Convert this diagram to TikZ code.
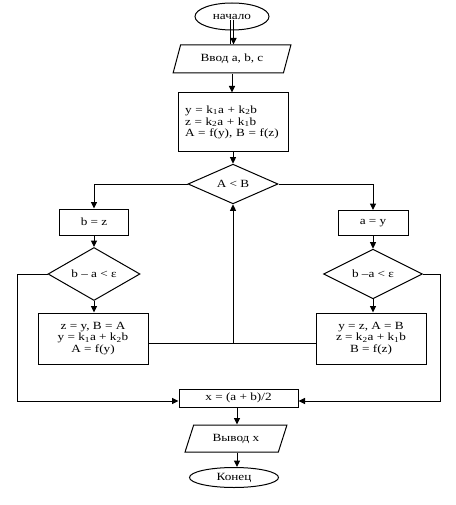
\documentclass[tikz,border=0pt]{standalone}
\usepackage{fontspec}
\setmainfont{Liberation Serif}[FakeStretch=1.2]
\usetikzlibrary{shapes.geometric,arrows.meta}
\begin{document}
\begin{tikzpicture}[x=1pt,y=-1pt,
  every node/.style={font=\fontsize{11}{11.8}\selectfont, inner sep=0pt, line width=1pt},
  box/.style={draw, rectangle},
  dec/.style={draw, diamond},
  term/.style={draw, ellipse},
  io/.style={draw, trapezium, trapezium stretches=true},
  conn/.style={line width=1pt},
  arrow/.style={conn, -{Triangle[length=6.5pt,width=6pt]}}
]
\useasboundingbox[fill=white] (0,0) rectangle (455,505);

\node[term, minimum width=74, minimum height=27] (start) at (232,16.5) {начало};
\node[io, trapezium left angle=65, trapezium right angle=115, minimum width=118, minimum height=28] (in) at (232,59) {Ввод a, b, c};
\node[box, minimum width=110, minimum height=59, text width=96, align=left] (calc) at (233,122.5)
  {y = k\textsubscript{1}a + k\textsubscript{2}b\\z = k\textsubscript{2}a + k\textsubscript{1}b\\A = f(y), B = f(z)};
\node[dec, minimum width=90, minimum height=37] (d1) at (233,184) {A < B};

\node[box, minimum width=69, minimum height=26] (bz) at (94,222) {b = z};
\node[dec, minimum width=92, minimum height=43] (ld) at (94,274) {b – a < ε};
\node[box, minimum width=110, minimum height=51, align=center] (lr) at (93,338.5)
  {z = y, B = A\\y = k\textsubscript{1}a + k\textsubscript{2}b\\A = f(y)};

\node[box, minimum width=70, minimum height=25] (ay) at (373,223) {a = y};
\node[dec, minimum width=99, minimum height=42] (rd) at (373,274) {b –a < ε};
\node[box, minimum width=110, minimum height=51, align=center] (rr) at (371,338.5)
  {y = z, A = B\\z = k\textsubscript{2}a + k\textsubscript{1}b\\B = f(z)};

\node[box, minimum width=119, minimum height=18] (fin) at (238.5,398) {x = (a + b)/2};
\node[io, trapezium left angle=63, trapezium right angle=117, minimum width=102, minimum height=27] (out) at (236,438.5) {Вывод x};
\node[term, minimum width=89, minimum height=20] (end) at (234,477.5) {Конец};

% connectors
\coordinate (s1) at (230.5,20);
\coordinate (s2) at (233.5,20);
\draw[conn] (s1) -- (s1 |- in.north);
\draw[arrow] (s2) -- (s2 |- in.north);
\draw[arrow] (in.south) -- (in.south |- calc.north);
\draw[arrow] (calc.south) -- (d1.north);
\draw[arrow] (d1.west) -| (bz.north);
\draw[arrow] (d1.east) -| (ay.north);
\draw[arrow] (bz.south) -- (ld.north);
\draw[arrow] (ay.south) -- (rd.north);
\draw[arrow] (ld.south) -- (ld.south |- lr.north);
\draw[arrow] (rd.south) -- (rd.south |- rr.north);

\coordinate (j) at (233,343);
\draw[conn] (lr.east |- j) -- (j);
\draw[conn] (rr.west |- j) -- (j);
\draw[arrow] (j) -- (d1.south);

\coordinate (lc) at (17,401);
\draw[arrow] (ld.west) -| (lc) -- (lc -| fin.west);
\coordinate (rc) at (440,401);
\draw[arrow] (rd.east) -| (rc) -- (rc -| fin.east);

\coordinate (fo) at (237,0);
\draw[arrow] (fin.south -| fo) -- (out.north -| fo);
\draw[arrow] (out.south -| fo) -- (end.north -| fo);
\end{tikzpicture}
\end{document}
